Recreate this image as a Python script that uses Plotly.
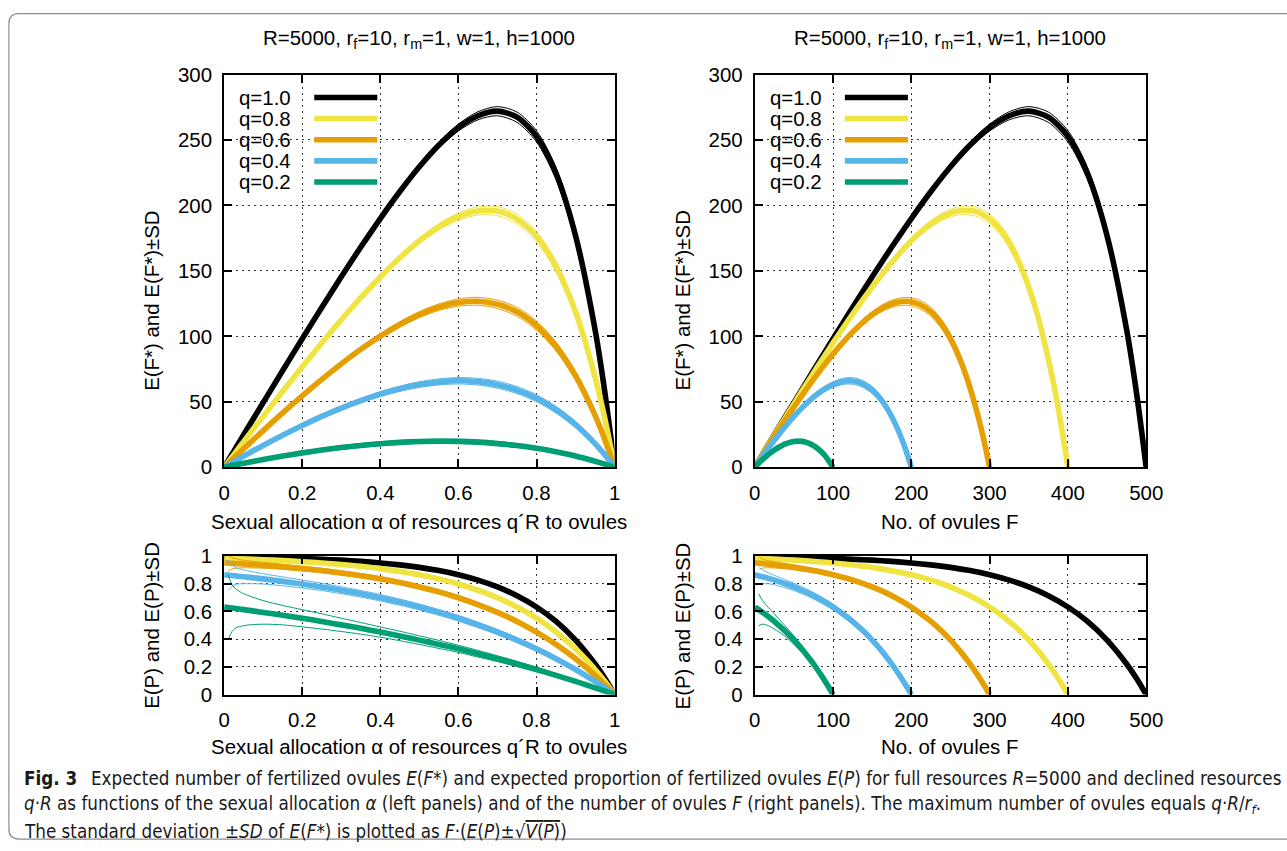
import plotly.graph_objects as go

# ---------------- data ----------------
alpha = [0, 0.01, 0.02, 0.03, 0.05, 0.1, 0.15, 0.2, 0.25, 0.3, 0.35, 0.4, 0.45,
         0.5, 0.55, 0.6, 0.65, 0.7, 0.75, 0.8, 0.85, 0.9, 0.95, 0.975, 1.0]

q_labels = ["q=1.0", "q=0.8", "q=0.6", "q=0.4", "q=0.2"]
ovules_max = [500, 400, 300, 200, 100]          # q*R/r_f
colors = ["#000000", "#f0e442", "#e69f00", "#56b4e9", "#009e73"]

# expected number of fertilized ovules E(F*)
ef_q10 = [0, 5.0, 9.9, 14.9, 24.8, 49.4, 73.9, 98.2, 122.1, 145.5, 168.2, 190.0, 210.6,
          229.5, 246.1, 259.5, 268.5, 272.0, 267.4, 252.8, 224.4, 176.9, 105.0, 57.3, 0]
ef_q08 = [0, 3.9, 7.8, 11.7, 19.6, 38.9, 58.0, 76.7, 95.0, 112.7, 129.6, 145.4, 160.0,
          173.0, 183.7, 191.5, 195.8, 195.7, 189.6, 176.3, 153.3, 118.8, 68.8, 37.1, 0]
ef_q06 = [0, 2.8, 5.7, 8.5, 14.1, 28.0, 41.5, 54.5, 67.1, 79.0, 90.1, 100.2, 109.1,
          116.6, 122.3, 125.8, 126.8, 124.5, 118.8, 108.2, 92.3, 69.9, 39.6, 21.1, 0]
ef_q04 = [0, 1.7, 3.4, 5.1, 8.5, 16.7, 24.5, 31.9, 38.9, 45.2, 50.9, 55.9, 60.0,
          63.2, 65.2, 66.1, 65.4, 63.1, 59.0, 52.8, 44.0, 32.6, 18.1, 9.5, 0]
ef_q02 = [0, 0.6, 1.3, 1.9, 3.1, 5.9, 8.6, 11.0, 13.2, 15.1, 16.7, 18.0, 19.0,
          19.7, 19.9, 19.8, 19.2, 18.1, 16.6, 14.5, 11.8, 8.6, 4.6, 2.4, 0]

# expected proportion of fertilized ovules E(P)
ep_q10 = [0.993, 0.993, 0.993, 0.992, 0.991, 0.989, 0.986, 0.982, 0.976, 0.970, 0.961, 0.950, 0.936,
          0.918, 0.895, 0.865, 0.826, 0.777, 0.713, 0.632, 0.528, 0.393, 0.221, 0.118, 0]
ep_q08 = [0.982, 0.981, 0.980, 0.979, 0.978, 0.973, 0.967, 0.959, 0.950, 0.939, 0.926, 0.909, 0.889,
          0.865, 0.835, 0.798, 0.753, 0.699, 0.632, 0.551, 0.451, 0.330, 0.181, 0.095, 0]
ep_q06 = [0.950, 0.949, 0.947, 0.946, 0.942, 0.933, 0.922, 0.909, 0.895, 0.878, 0.858, 0.835, 0.808,
          0.777, 0.741, 0.699, 0.650, 0.593, 0.528, 0.451, 0.362, 0.259, 0.139, 0.072, 0]
ep_q04 = [0.865, 0.862, 0.859, 0.856, 0.850, 0.835, 0.817, 0.798, 0.777, 0.753, 0.727, 0.699, 0.667,
          0.632, 0.593, 0.551, 0.503, 0.451, 0.393, 0.330, 0.259, 0.181, 0.095, 0.049, 0]
ep_q02 = [0.632, 0.628, 0.625, 0.621, 0.613, 0.593, 0.573, 0.551, 0.528, 0.503, 0.478, 0.451, 0.423,
          0.393, 0.362, 0.330, 0.295, 0.259, 0.221, 0.181, 0.139, 0.095, 0.049, 0.025, 0]

# standard deviation sqrt(V(P)) of the proportion
sd_q10 = [None, 0.017, 0.012, 0.010, 0.0085, 0.0066, 0.0061, 0.006, 0.0062, 0.0063, 0.0066, 0.0069, 0.0073,
          0.0078, 0.0083, 0.0089, 0.0095, 0.010, 0.0105, 0.0109, 0.0109, 0.0104, 0.0086, 0.0066, 0]
sd_q08 = [None, 0.031, 0.022, 0.019, 0.015, 0.0115, 0.0104, 0.010, 0.0098, 0.0098, 0.010, 0.0102, 0.0105,
          0.0109, 0.0113, 0.0117, 0.012, 0.0123, 0.0125, 0.0125, 0.0122, 0.0112, 0.0089, 0.0067, 0]
sd_q06 = [None, 0.058, 0.041, 0.034, 0.027, 0.021, 0.018, 0.0167, 0.016, 0.0155, 0.0153, 0.0153, 0.0153,
          0.0153, 0.0153, 0.0154, 0.0154, 0.0153, 0.015, 0.0145, 0.0135, 0.012, 0.0092, 0.0068, 0]
sd_q04 = [None, 0.11, 0.078, 0.06, 0.05, 0.037, 0.032, 0.029, 0.0265, 0.025, 0.024, 0.023, 0.022,
          0.0217, 0.021, 0.0204, 0.0197, 0.019, 0.018, 0.0167, 0.015, 0.013, 0.0096, 0.007, 0]
sd_q02 = [None, 0.235, 0.17, 0.14, 0.115, 0.085, 0.07, 0.062, 0.055, 0.048, 0.042, 0.037, 0.034,
          0.031, 0.029, 0.026, 0.024, 0.021, 0.019, 0.016, 0.013, 0.01, 0.006, 0.004, 0]

ef_series = [ef_q10, ef_q08, ef_q06, ef_q04, ef_q02]
ep_series = [ep_q10, ep_q08, ep_q06, ep_q04, ep_q02]
sd_series = [sd_q10, sd_q08, sd_q06, sd_q04, sd_q02]

alpha_ticks = [0, 0.2, 0.4, 0.6, 0.8, 1]
alpha_ticktext = ["0", "0.2", "0.4", "0.6", "0.8", "1"]
ovule_ticks = [0, 100, 200, 300, 400, 500]
ef_ticks = [0, 50, 100, 150, 200, 250, 300]
ep_ticks = [0, 0.2, 0.4, 0.6, 0.8, 1]
ep_ticktext = ["0", "0.2", "0.4", "0.6", "0.8", "1"]

panel_title = "R=5000, r<sub>f</sub>=10, r<sub>m</sub>=1, w=1, h=1000"
xlab_alpha = "Sexual allocation \u03b1 of resources q\u00b4R to ovules"
xlab_F = "No. of ovules F"
ylab_EF = "E(F*) and E(F*)\u00b1SD"
ylab_EP = "E(P) and E(P)\u00b1SD"

# ---------------- layout helpers ----------------
W, H = 1287, 851
FONT = "Liberation Sans, Arial, Helvetica, sans-serif"
# the photographed page comes out slightly reduced and shifted; compensate
SX, OX = 0.981, 5.1
SY, OY = 0.976, 10.3
S = (SX + SY) / 2


def fx(t):
    return ((t - OX) / SX) / W


def fy(t):
    return 1 - ((t - OY) / SY) / H


def fs(v):
    return round(v / S, 2)


fig = go.Figure()

# axis ids: 1 top-left, 2 top-right, 3 bottom-left, 4 bottom-right
for i, lab in enumerate(q_labels):
    col = colors[i]
    fmax = ovules_max[i]
    ef, ep, sd = ef_series[i], ep_series[i], sd_series[i]
    F = [a * fmax for a in alpha]
    ef_up = [None if s is None else e + f * s for e, f, s in zip(ef, F, sd)]
    ef_lo = [None if s is None else e - f * s for e, f, s in zip(ef, F, sd)]
    ep_up = [None if s is None else p + s for p, s in zip(ep, sd)]
    ep_lo = [None if s is None else p - s for p, s in zip(ep, sd)]
    # right panels: thin lines shown from about 5 ovules on
    ep_up_r = [None if f < 5 else v for f, v in zip(F, ep_up)]
    ep_lo_r = [None if f < 5 else v for f, v in zip(F, ep_lo)]
    ef_up_r = [None if f < 5 else v for f, v in zip(F, ef_up)]
    ef_lo_r = [None if f < 5 else v for f, v in zip(F, ef_lo)]

    sets = [
        ("x", "y", alpha, ef, ef_up, ef_lo),
        ("x2", "y2", F, ef, ef_up_r, ef_lo_r),
        ("x3", "y3", alpha, ep, ep_up, ep_lo),
        ("x4", "y4", F, ep, ep_up_r, ep_lo_r),
    ]
    for xa, ya, xs, main, up, lo in sets:
        for thin in (up, lo):
            fig.add_trace(go.Scatter(x=xs, y=thin, xaxis=xa, yaxis=ya, mode="lines",
                                     line=dict(color=col, width=1, shape="spline", smoothing=0.8),
                                     showlegend=False, hoverinfo="skip"))
        fig.add_trace(go.Scatter(x=xs, y=main, xaxis=xa, yaxis=ya, mode="lines", name=lab,
                                 line=dict(color=col, width=5.6, shape="spline", smoothing=0.8),
                                 showlegend=False))

# panel positions in (target) pixels
LX = (223, 613)
RX = (753, 1144)
TY = (73, 467)
BY = (556, 695)

common_axis = dict(showline=True, linewidth=2, linecolor="black", mirror="ticks",
                   ticks="inside", ticklen=8, tickwidth=1.5, tickcolor="black",
                   showgrid=True, gridcolor="#333333", gridwidth=1, griddash="2px,4px",
                   zeroline=False, tickfont=dict(family=FONT, size=fs(20), color="black"),
                   ticklabelstandoff=6, fixedrange=True)


def xdom(px):
    return [fx(px[0]), fx(px[1])]


def ydom(py):
    return [fy(py[1]), fy(py[0])]


fig.update_layout(
    xaxis=dict(common_axis, domain=xdom(LX), anchor="y", range=[0, 1],
               tickvals=alpha_ticks, ticktext=alpha_ticktext),
    yaxis=dict(common_axis, domain=ydom(TY), anchor="x", range=[0, 300], tickvals=ef_ticks),
    xaxis2=dict(common_axis, domain=xdom(RX), anchor="y2", range=[0, 500], tickvals=ovule_ticks),
    yaxis2=dict(common_axis, domain=ydom(TY), anchor="x2", range=[0, 300], tickvals=ef_ticks),
    xaxis3=dict(common_axis, domain=xdom(LX), anchor="y3", range=[0, 1],
                tickvals=alpha_ticks, ticktext=alpha_ticktext),
    yaxis3=dict(common_axis, domain=ydom(BY), anchor="x3", range=[0, 1],
                tickvals=ep_ticks, ticktext=ep_ticktext),
    xaxis4=dict(common_axis, domain=xdom(RX), anchor="y4", range=[0, 500], tickvals=ovule_ticks),
    yaxis4=dict(common_axis, domain=ydom(BY), anchor="x4", range=[0, 1],
                tickvals=ep_ticks, ticktext=ep_ticktext),
    width=W, height=H, autosize=False,
    margin=dict(l=0, r=0, t=0, b=0),
    paper_bgcolor="white", plot_bgcolor="white",
    font=dict(family=FONT, size=fs(20), color="black"),
    showlegend=False,
)

ann = []
shapes = []
txt = dict(family=FONT, size=fs(20), color="black")

for off in (0, 530):
    cx = (LX[0] + LX[1]) / 2 + off
    # panel title
    ann.append(dict(x=fx(cx), y=fy(37), xref="paper", yref="paper", text=panel_title,
                    showarrow=False, xanchor="center", yanchor="middle", font=txt))
    # x titles
    ann.append(dict(x=fx(cx), y=fy(521), xref="paper", yref="paper",
                    text=xlab_alpha if off == 0 else xlab_F,
                    showarrow=False, xanchor="center", yanchor="middle", font=txt))
    ann.append(dict(x=fx(cx), y=fy(747), xref="paper", yref="paper",
                    text=xlab_alpha if off == 0 else xlab_F,
                    showarrow=False, xanchor="center", yanchor="middle", font=txt))
    # y titles
    ann.append(dict(x=fx(151 + off), y=fy(300), xref="paper", yref="paper", text=ylab_EF,
                    textangle=-90, showarrow=False, xanchor="center", yanchor="middle", font=txt))
    ann.append(dict(x=fx(151 + off), y=fy(626), xref="paper", yref="paper", text=ylab_EP,
                    textangle=-90, showarrow=False, xanchor="center", yanchor="middle", font=txt))
    # key (text left, line sample right)
    for i, lab in enumerate(q_labels):
        yy = 96 + i * 21.2
        ann.append(dict(x=fx(236 + off), y=fy(yy), xref="paper", yref="paper", text=lab,
                        showarrow=False, xanchor="left", yanchor="middle", font=txt))
        shapes.append(dict(type="line", xref="paper", yref="paper",
                           x0=fx(313 + off), x1=fx(376 + off), y0=fy(yy), y1=fy(yy),
                           line=dict(color=colors[i], width=5.6)))

# caption
cap_font = dict(family="DejaVu Sans Condensed, Liberation Sans, Arial, sans-serif",
                size=fs(18.3), color="#1a1a1a")
cap_lines = [
    "<b>Fig. 3</b>\u2002 Expected number of fertilized ovules <i>E</i>(<i>F</i>*) and expected proportion "
    "of fertilized ovules <i>E</i>(<i>P</i>) for full resources <i>R</i>=5000 and declined resources",
    "<i>q</i>\u00b7<i>R</i> as functions of the sexual allocation <i>\u03b1</i> (left panels) and of the number "
    "of ovules <i>F</i> (right panels). The maximum number of ovules equals <i>q</i>\u00b7<i>R</i>/<i>r<sub>f</sub></i>.",
    "The standard deviation \u00b1<i>SD</i> of <i>E</i>(<i>F</i>*) is plotted as <i>F</i>\u00b7(<i>E</i>(<i>P</i>)"
    "\u00b1\u221a<span style='text-decoration:overline'><i>V</i>(<i>P</i>)</span>)",
]
for k, line in enumerate(cap_lines):
    ann.append(dict(x=fx(21), y=fy(779 + k * 26.5), xref="paper", yref="paper", text=line,
                    showarrow=False, xanchor="left", yanchor="middle", font=cap_font))

# outer rounded frame (bottom edge kept just inside the page)
r = 10
ybot = min(847, OY + SY * (H - 1))
path = (f"M {fx(1320)} {fy(12)} L {fx(8 + r)} {fy(12)} Q {fx(8)} {fy(12)} {fx(8)} {fy(12 + r)} "
        f"L {fx(8)} {fy(ybot - r)} Q {fx(8)} {fy(ybot)} {fx(8 + r)} {fy(ybot)} L {fx(1320)} {fy(ybot)}")
shapes.append(dict(type="path", xref="paper", yref="paper", path=path,
                   line=dict(color="#8c8c8c", width=1.2)))

fig.update_layout(annotations=ann, shapes=shapes)
fig.write_html(
    "out.html",
    config={"displayModeBar": False},
    post_script=("var d=document.getElementById('{plot_id}');"
                 "d.style.position='fixed';d.style.left='0px';d.style.top='0px';"
                 "document.body.style.margin='0px';document.body.style.padding='0px';"
                 "document.documentElement.style.overflow='hidden';document.body.style.overflow='hidden';"),
)
